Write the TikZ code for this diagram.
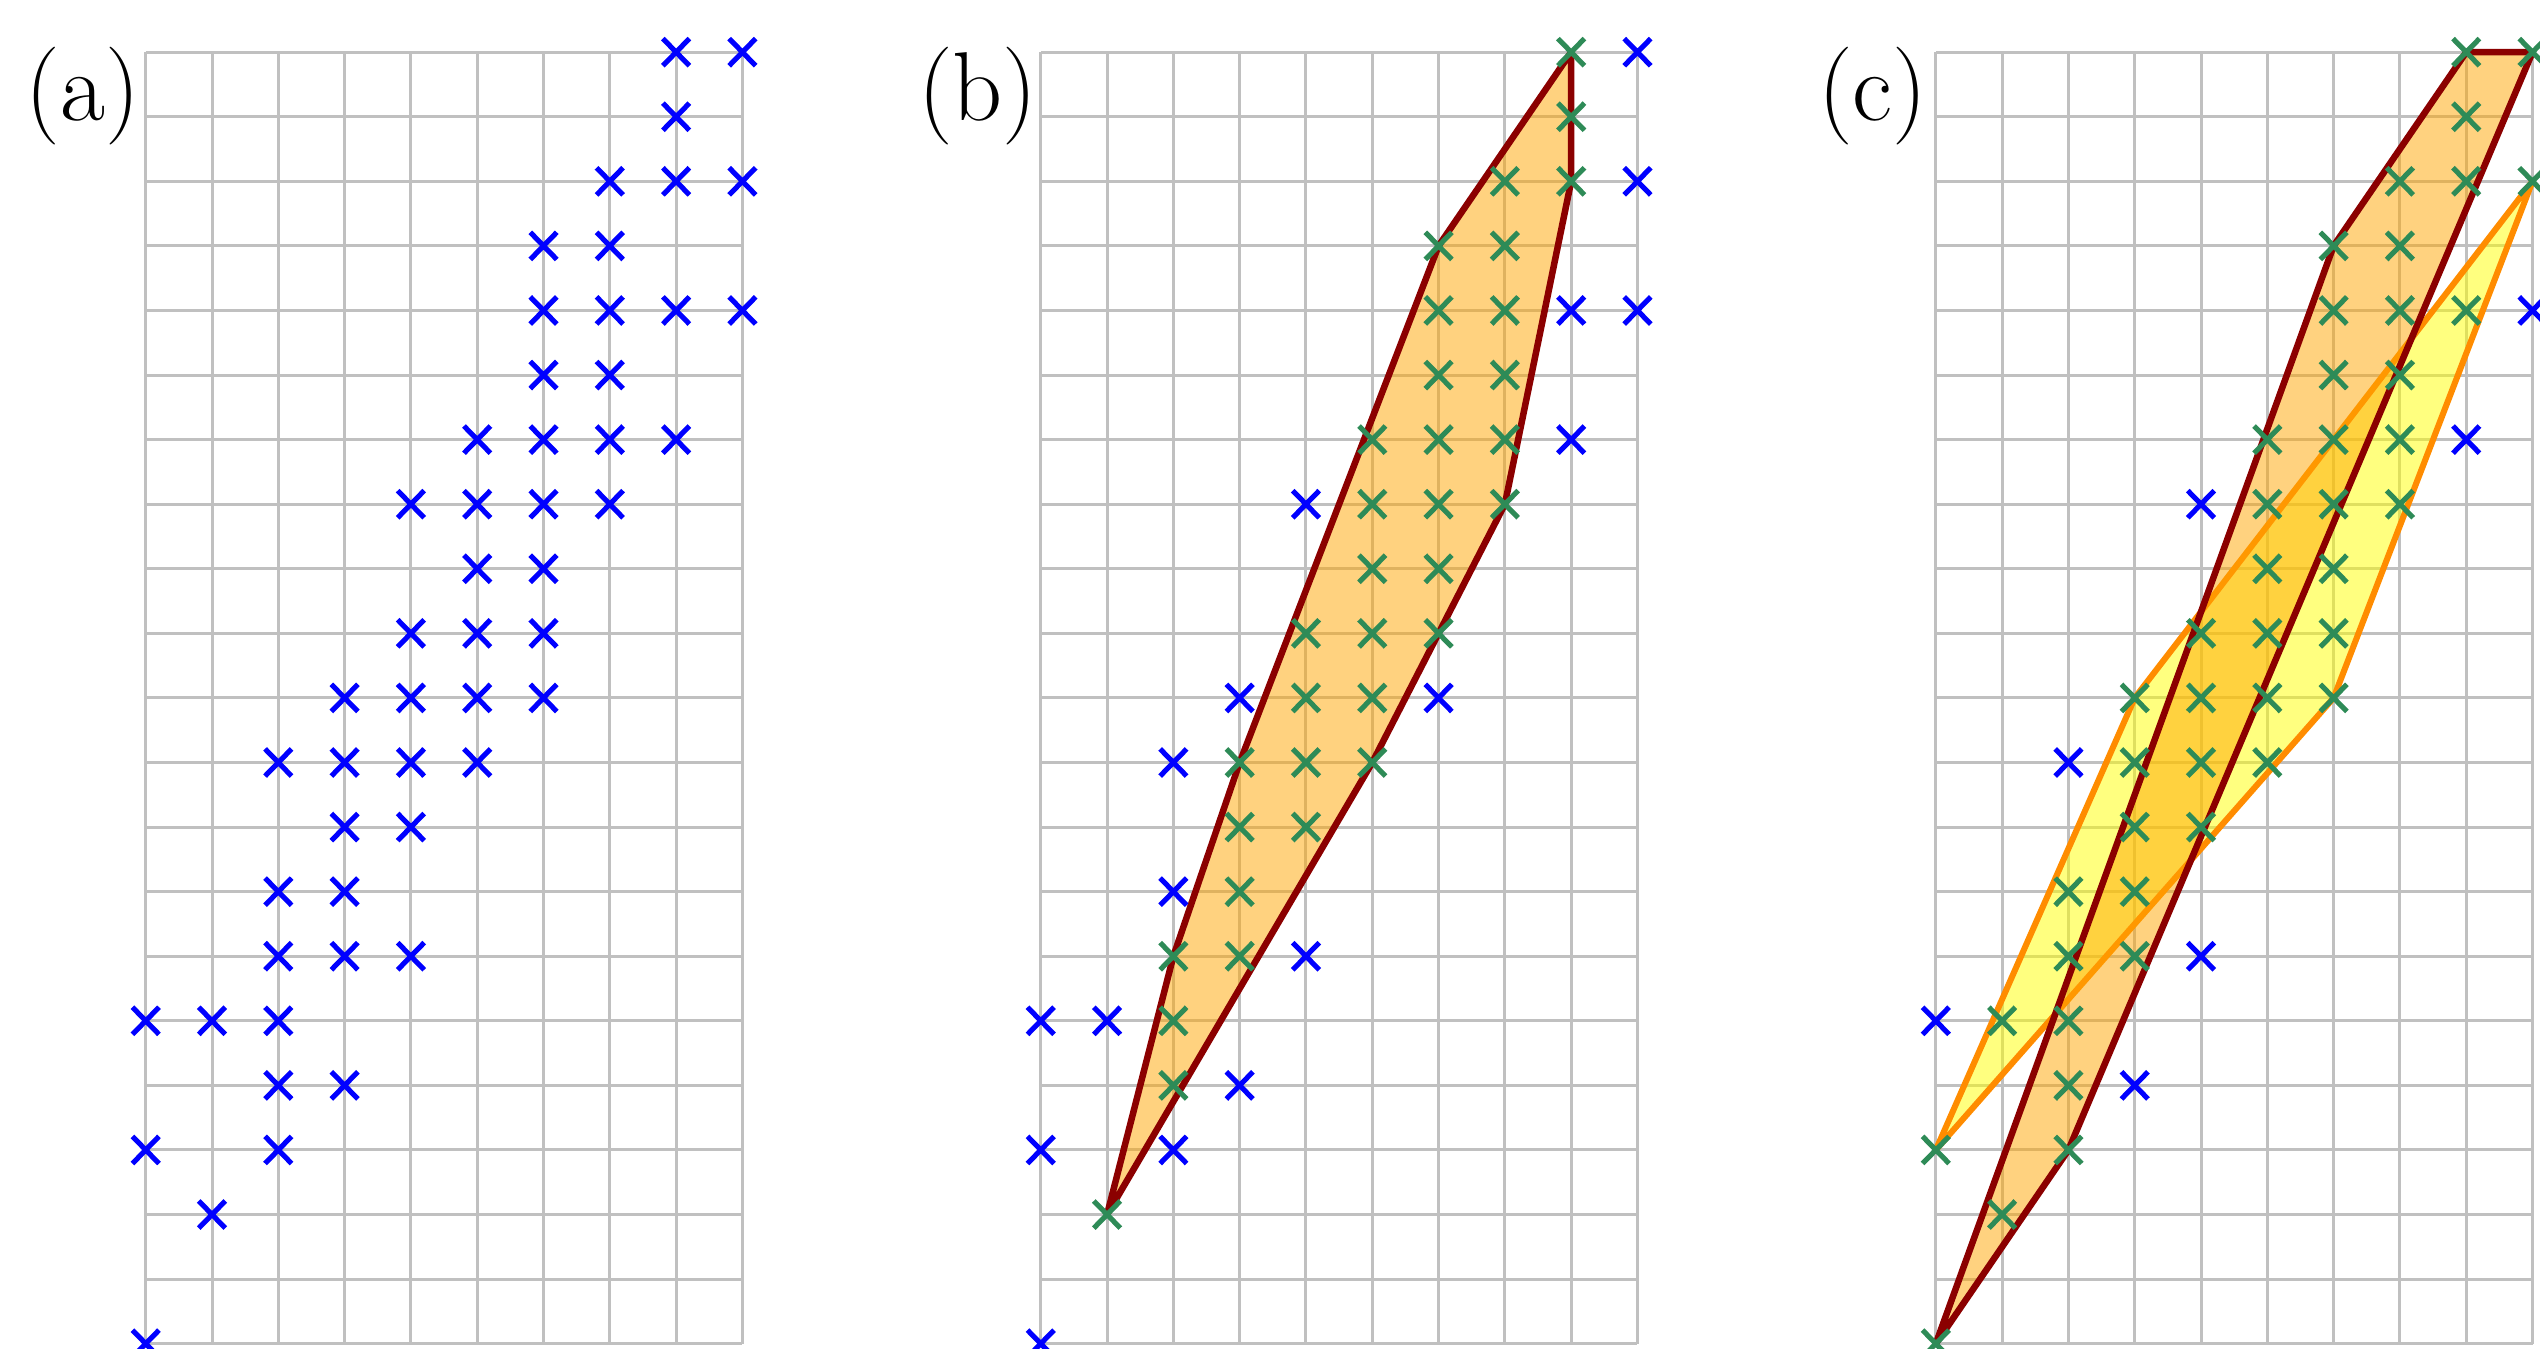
\documentclass[tikz,border=0pt]{standalone}
\usetikzlibrary{shapes.misc}
\definecolor{mkblue}{RGB}{0,0,255}
\definecolor{mkgreen}{RGB}{46,139,87}
\definecolor{dred}{RGB}{139,0,0}
\definecolor{lorange}{RGB}{255,165,0}
\definecolor{dorange}{RGB}{255,140,0}
\definecolor{lyellow}{RGB}{255,255,0}
\definecolor{gridgray}{RGB}{192,192,192}
\tikzset{
  gridline/.style={draw=gridgray, line width=1.3pt},
  mk/.style={cross out, draw, line width=2.2pt, minimum width=0.40cm, minimum height=0.41cm, inner sep=0pt, outer sep=0pt},
  bmk/.style={mk, draw=mkblue},
  gmk/.style={mk, draw=mkgreen},
  hullA/.style={draw=dred, line width=2.8pt, line join=round, fill=lorange, fill opacity=0.5},
  hullB/.style={draw=dorange, line width=2.6pt, line join=round, fill=lyellow, fill opacity=0.5},
  lbl/.style={font=\fontsize{42}{48}\selectfont, inner sep=0pt}
}
\newcommand{\panelgrid}{%
  \foreach \i in {0,...,9} \draw[gridline] (\i,0) -- (\i,20);
  \foreach \j in {0,...,20} \draw[gridline] (0,\j) -- (9,\j);
}
\begin{document}
\begin{tikzpicture}[x=1cm,y=0.974cm]
\useasboundingbox (-2.198cm,-0.069cm) rectangle (36.113cm,20.267cm);

% ---------- panel (a)
\begin{scope}
  \panelgrid
  \node[lbl] (la) at (-0.95,19.32) {(a)};
  \foreach \x/\y in {8/20,9/20,8/19,7/18,8/18,9/18,6/17,7/17,6/16,7/16,8/16,9/16,6/15,7/15,5/14,6/14,7/14,8/14,4/13,5/13,6/13,7/13,5/12,6/12,4/11,5/11,6/11,3/10,4/10,5/10,6/10,2/9,3/9,4/9,5/9,3/8,4/8,2/7,3/7,2/6,3/6,4/6,0/5,1/5,2/5,2/4,3/4,0/3,2/3,1/2,0/0}
    \node[bmk] (a-\x-\y) at (\x,\y) {};
\end{scope}

% ---------- panel (b)
\begin{scope}[xshift=13.5cm]
  \panelgrid
  \node[lbl] (lb) at (-0.95,19.32) {(b)};
  \path[hullA] (1,2) -- (5,9) -- (7,13) -- (8,18) -- (8,20) -- (6,17) -- (3,9) -- (2,6) -- cycle;
  \foreach \x/\y in {9/20,9/18,8/16,9/16,8/14,4/13,3/10,6/10,2/9,2/7,4/6,0/5,1/5,3/4,0/3,2/3,0/0}
    \node[bmk] (b-\x-\y) at (\x,\y) {};
  \foreach \x/\y in {8/20,8/19,7/18,8/18,6/17,7/17,6/16,7/16,6/15,7/15,5/14,6/14,7/14,5/13,6/13,7/13,5/12,6/12,4/11,5/11,6/11,4/10,5/10,3/9,4/9,5/9,3/8,4/8,3/7,2/6,3/6,2/5,2/4,1/2}
    \node[gmk] (b-\x-\y) at (\x,\y) {};
\end{scope}

% ---------- panel (c)
\begin{scope}[xshift=27cm]
  \panelgrid
  \node[lbl] (lc) at (-0.95,19.32) {(c)};
  \path[hullB] (0,3) -- (6,10) -- (9,18) -- (3,10) -- cycle;
  \path[hullA] (0,0) -- (2,3) -- (9,20) -- (8,20) -- (6,17) -- cycle;
  \foreach \x/\y in {9/16,8/14,4/13,2/9,4/6,0/5,3/4}
    \node[bmk] (c-\x-\y) at (\x,\y) {};
  \foreach \x/\y in {8/20,9/20,8/19,7/18,8/18,9/18,6/17,7/17,6/16,7/16,8/16,6/15,7/15,5/14,6/14,7/14,5/13,6/13,7/13,5/12,6/12,4/11,5/11,6/11,3/10,4/10,5/10,6/10,3/9,4/9,5/9,3/8,4/8,2/7,3/7,2/6,3/6,1/5,2/5,2/4,0/3,2/3,1/2,0/0}
    \node[gmk] (c-\x-\y) at (\x,\y) {};
\end{scope}
\end{tikzpicture}
\end{document}
